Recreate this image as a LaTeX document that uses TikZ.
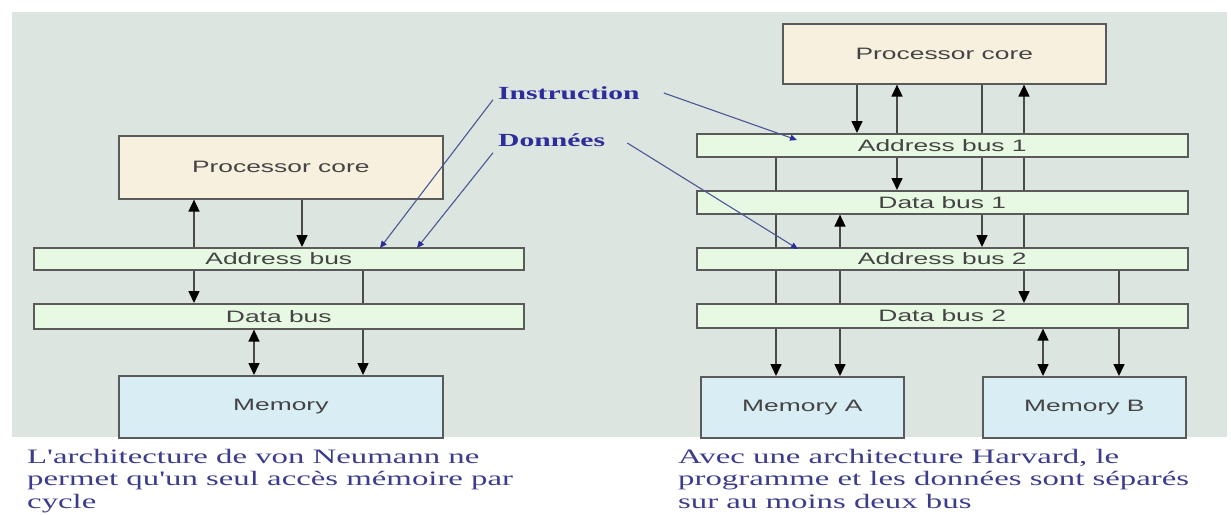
\documentclass[tikz,border=0pt]{standalone}
\usepackage{fontspec}
\usetikzlibrary{arrows.meta}

% Wide faces: the whole slide is set with horizontally stretched lettering
\newfontfamily\boxfont[FakeStretch=1.6]{Liberation Sans}
\newfontfamily\notefont[FakeStretch=1.6]{Liberation Serif}

\definecolor{panel}{HTML}{DDE5E1}
\definecolor{corefill}{HTML}{F7F0DE}
\definecolor{busfill}{HTML}{E8F9E3}
\definecolor{memfill}{HTML}{D8EDF4}
\definecolor{boxline}{HTML}{5A5A5A}
\definecolor{boxtext}{HTML}{444444}
\definecolor{wire}{HTML}{4A4A4A}
\definecolor{note}{HTML}{2C2C9A}
\definecolor{caption}{HTML}{3C3C8E}
\definecolor{pointer}{HTML}{4A5894}

\pgfdeclarelayer{back}
\pgfdeclarelayer{wires}
\pgfsetlayers{back,wires,main}

\begin{document}
\begin{tikzpicture}[x=1pt, y=-1pt,
  unit/.style={rectangle, draw=boxline, line width=1.6pt, inner sep=0pt,
    anchor=north west, text=boxtext,
    font=\boxfont\fontsize{16.5}{18}\selectfont},
  core/.style={unit, fill=corefill},
  bus/.style={unit, fill=busfill},
  mem/.style={unit, fill=memfill},
  wire/.style={draw=wire, line width=1.6pt},
  tip/.style={wire, -{Triangle[width=11pt,length=12pt,color=black]}},
  twotips/.style={wire, {Triangle[width=11pt,length=12pt,color=black]}-{Triangle[width=11pt,length=12pt,color=black]}},
  pointer/.style={draw=pointer, line width=1.1pt, -{Triangle[width=6pt,length=7pt,color=note]}},
  lbl/.style={inner sep=0pt, text=note, font=\notefont\bfseries\fontsize{18.5}{20}\selectfont},
  capt/.style={inner sep=0pt, anchor=base west, align=left, text=caption,
    font=\notefont\fontsize{20.5}{22.5}\selectfont}
]
\useasboundingbox (0,0) rectangle (1231,514);
\begin{pgfonlayer}{back}
  \fill[white] (0,0) rectangle (1231,514);
  \fill[panel] (12,12) rectangle (1227,437);
\end{pgfonlayer}

% ---- von Neumann machine ----
\node[core, minimum width=324pt, minimum height=63pt] (procL) at (118,135) {Processor core};
\node[bus,  minimum width=490pt, minimum height=22pt] (abL)   at (33,247)  {Address bus};
\node[bus,  minimum width=490pt, minimum height=25pt] (dbL)   at (33,303)  {Data bus};
\node[mem,  minimum width=324pt, minimum height=62pt] (memL)  at (118,375) {Memory};

% ---- Harvard machine ----
\node[core, minimum width=323pt, minimum height=60pt] (procR) at (782,23)  {Processor core};
\node[bus,  minimum width=491pt, minimum height=23pt] (ab1)   at (696,133) {Address bus 1};
\node[bus,  minimum width=491pt, minimum height=23pt] (db1)   at (696,190) {Data bus 1};
\node[bus,  minimum width=491pt, minimum height=22pt] (ab2)   at (696,247) {Address bus 2};
\node[bus,  minimum width=491pt, minimum height=24pt] (db2)   at (696,303) {Data bus 2};
\node[mem,  minimum width=203pt, minimum height=61pt] (memA)  at (700,376) {Memory A};
\node[mem,  minimum width=203pt, minimum height=61pt] (memB)  at (982,376) {Memory B};

% wire columns
\coordinate (l1) at (194,0);
\coordinate (l2) at (254,0);
\coordinate (l3) at (302,0);
\coordinate (l4) at (363,0);
\coordinate (r1) at (776,0);
\coordinate (r2) at (840,0);
\coordinate (r3) at (857,0);
\coordinate (r4) at (897,0);
\coordinate (r5) at (982,0);
\coordinate (r6) at (1024,0);
\coordinate (r7) at (1043,0);
\coordinate (r8) at (1119,0);

\begin{pgfonlayer}{wires}
  % von Neumann
  \draw[tip] (abL.north -| l1) -- (procL.south -| l1);
  \draw[tip] (procL.south -| l3) -- (abL.north -| l3);
  \draw[tip] (abL.south -| l1) -- (dbL.north -| l1);
  \draw[tip] (abL.south -| l4) -- (memL.north -| l4);
  \draw[twotips] (dbL.south -| l2) -- (memL.north -| l2);
  % Harvard
  \draw[tip] (procR.south -| r3) -- (ab1.north -| r3);
  \draw[tip] (ab1.north -| r4) -- (procR.south -| r4);
  \draw[tip] (ab1.south -| r4) -- (db1.north -| r4);
  \draw[tip] (procR.south -| r5) -- (ab2.north -| r5);
  \draw[tip] (ab2.north -| r6) -- (procR.south -| r6);
  \draw[tip] (ab2.south -| r6) -- (db2.north -| r6);
  \draw[tip] (ab1.south -| r1) -- (memA.north -| r1);
  \draw[tip] (ab2.north -| r2) -- (db1.south -| r2);
  \draw[tip] (ab2.south -| r2) -- (memA.north -| r2);
  \draw[twotips] (db2.south -| r7) -- (memB.north -| r7);
  \draw[tip] (ab2.south -| r8) -- (memB.north -| r8);
\end{pgfonlayer}

% ---- notes ----
\node[lbl, anchor=west] (instr) at (498,93)  {Instruction};
\node[lbl, anchor=west] (donn)  at (498,140) {Données};

\coordinate (iL) at (380,248);
\coordinate (dL) at (417,248);
\coordinate (iR) at (797,140);
\coordinate (dR) at (798,249);

\draw[pointer] ([xshift=-5pt]instr.south west) -- (iL);
\draw[pointer] ([shift={(-5,6)}]donn.south west) -- (dL);
\draw[pointer] ([xshift=24pt]instr.east) -- (iR);
\draw[pointer] ([shift={(22,3)}]donn.east) -- (dR);

% ---- captions (anchored on the baseline of the last line) ----
\node[capt] (capL) at (27,508) {L'architecture de von Neumann ne\\permet qu'un seul accès mémoire par\\cycle};
\node[capt] (capR) at (678,508) {Avec une architecture Harvard, le\\programme et les données sont séparés\\sur au moins deux bus};
\end{tikzpicture}
\end{document}
